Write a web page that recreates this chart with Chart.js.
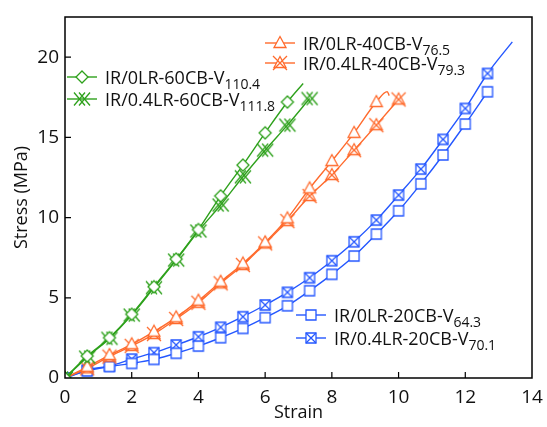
<!DOCTYPE html>
<html>
<head>
<meta charset="utf-8">
<script src="https://cdn.jsdelivr.net/npm/chart.js@4/dist/chart.umd.min.js"></script>
<style>
html, body { margin: 0; padding: 0; background: #fff; }
</style>
</head>
<body>
<canvas id="stressChart" width="547" height="427"></canvas>
<script>
// strain values where markers were taken (every 2/3)
const strainSteps = [0, 0.667, 1.333, 2, 2.667, 3.333, 4, 4.667, 5.333, 6, 6.667, 7.333, 8, 8.667, 9.333, 10, 10.667, 11.333, 12, 12.667];

// stress (MPa)
const green0 = [0, 1.37, 2.51, 3.97, 5.69, 7.41, 9.25, 11.35, 13.27, 15.28, 17.2];
const green04 = [0, 1.3, 2.47, 3.92, 5.63, 7.35, 9.16, 10.78, 12.54, 14.2, 15.76, 17.42];
const orange0 = [0, 0.7, 1.43, 2.1, 2.89, 3.78, 4.82, 6.0, 7.14, 8.45, 9.95, 11.82, 13.52, 15.28, 17.2];
const orange04 = [0, 0.6, 1.33, 2.0, 2.74, 3.68, 4.69, 5.9, 7.04, 8.39, 9.78, 11.34, 12.65, 14.2, 15.76, 17.36];
const blue0 = [0, 0.44, 0.71, 0.91, 1.16, 1.54, 1.99, 2.51, 3.09, 3.76, 4.5, 5.44, 6.46, 7.6, 8.97, 10.42, 12.1, 13.9, 15.83, 17.84];
const blue04 = [0, 0.5, 0.75, 1.18, 1.58, 2.06, 2.57, 3.16, 3.82, 4.55, 5.34, 6.25, 7.31, 8.49, 9.84, 11.4, 13.02, 14.87, 16.8, 18.98];

// where the curves carry on past the last marker
const green0Tail = [[7.14, 18.36]];
const orange0Tail = [[9.66, 17.85], [9.72, 17.6]];
const blue04Tail = [[13.41, 20.95]];

const seriesNames = ['IR/0LR-60CB-V', 'IR/0.4LR-60CB-V', 'IR/0LR-40CB-V', 'IR/0.4LR-40CB-V', 'IR/0LR-20CB-V', 'IR/0.4LR-20CB-V'];
const seriesSubs = ['110.4', '111.8', '76.5', '79.3', '64.3', '70.1'];

const xTicks = [0, 2, 4, 6, 8, 10, 12, 14];
const yTicks = [0, 5, 10, 15, 20];

const GREEN = '#2ea11c';
const ORANGE = '#ff6a2c';
const BLUE = '#2457ff';
const FONT = "'Open Sans', sans-serif";

// draw the marker shapes on small canvases so chart and legend share them
function makeMarker(type, color) {
    const c = document.createElement('canvas');
    c.width = 20; c.height = 20;
    const g = c.getContext('2d');
    g.strokeStyle = color;
    g.fillStyle = '#fff';
    g.lineWidth = 1.3;
    g.translate(10, 10);
    if (type === 'diamond') {
        g.beginPath();
        g.moveTo(0, -6); g.lineTo(6, 0); g.lineTo(0, 6); g.lineTo(-6, 0); g.closePath();
        g.fill(); g.stroke();
    } else if (type === 'xx') {
        g.beginPath();
        [-2.5, 2.5].forEach(d => {
            g.moveTo(d - 5.5, -6.5); g.lineTo(d + 5.5, 6.5);
            g.moveTo(d - 5.5, 6.5); g.lineTo(d + 5.5, -6.5);
        });
        g.stroke();
    } else if (type === 'tri' || type === 'triX') {
        g.beginPath();
        g.moveTo(0, -6.5); g.lineTo(6, 4.5); g.lineTo(-6, 4.5); g.closePath();
        g.fill(); g.stroke();
        if (type === 'triX') {
            g.beginPath();
            g.moveTo(-7, -7); g.lineTo(7, 7);
            g.moveTo(-7, 7); g.lineTo(7, -7);
            g.stroke();
        }
    } else if (type === 'sq' || type === 'sqX') {
        g.beginPath();
        g.rect(-5, -5, 10, 10);
        g.fill(); g.stroke();
        if (type === 'sqX') {
            g.beginPath();
            g.moveTo(-5, -5); g.lineTo(5, 5);
            g.moveTo(-5, 5); g.lineTo(5, -5);
            g.stroke();
        }
    }
    return c;
}

function makeSeries(i, vals, tail, color, marker) {
    const pts = vals.map((v, k) => ({ x: strainSteps[k], y: v }));
    tail.forEach(p => pts.push({ x: p[0], y: p[1] }));
    return {
        label: seriesNames[i] + seriesSubs[i],
        data: pts,
        borderColor: color,
        borderWidth: 1.4,
        pointStyle: makeMarker(marker, color),
        pointRadius: ctx => (ctx.dataIndex < vals.length ? 5 : 0),
        pointHoverRadius: 0,
        cubicInterpolationMode: 'monotone',
        fill: false
    };
}

const datasets = [
    makeSeries(0, green0, green0Tail, GREEN, 'diamond'),
    makeSeries(1, green04, [], GREEN, 'xx'),
    makeSeries(2, orange0, orange0Tail, ORANGE, 'tri'),
    makeSeries(3, orange04, [], ORANGE, 'triX'),
    makeSeries(4, blue0, [], BLUE, 'sq'),
    makeSeries(5, blue04, blue04Tail, BLUE, 'sqX')
];

// legend spots (left end of the sample line, centre y)
const legendSpots = [[67, 77], [67, 99], [265, 43], [265, 63], [296, 315], [296, 338]];

const framePlugin = {
    id: 'frame',
    afterDraw(chart) {
        const { ctx, chartArea: a, scales } = chart;
        ctx.save();
        ctx.strokeStyle = '#000';
        ctx.lineWidth = 1.5;
        ctx.strokeRect(a.left, a.top, a.right - a.left, a.bottom - a.top);
        ctx.lineWidth = 1.2;
        ctx.beginPath();
        xTicks.forEach(v => {
            const px = scales.x.getPixelForValue(v);
            if (px > a.left + 2 && px < a.right - 2) {
                ctx.moveTo(px, a.bottom); ctx.lineTo(px, a.bottom - 6);
            }
        });
        yTicks.forEach(v => {
            const py = scales.y.getPixelForValue(v);
            if (py > a.top + 2 && py < a.bottom - 2) {
                ctx.moveTo(a.left, py); ctx.lineTo(a.left + 6, py);
            }
        });
        ctx.stroke();

        // legend with subscripts
        chart.data.datasets.forEach((ds, i) => {
            const [lx, ly] = legendSpots[i];
            ctx.strokeStyle = ds.borderColor;
            ctx.lineWidth = 1.4;
            ctx.beginPath();
            ctx.moveTo(lx, ly); ctx.lineTo(lx + 30, ly);
            ctx.stroke();
            ctx.drawImage(ds.pointStyle, lx + 15 - 10, ly - 10);
            ctx.fillStyle = '#111';
            ctx.textBaseline = 'alphabetic';
            ctx.font = '18px ' + FONT;
            const tx = lx + 38;
            ctx.fillText(seriesNames[i], tx, ly + 6.5);
            const w = ctx.measureText(seriesNames[i]).width;
            ctx.font = '14px ' + FONT;
            ctx.fillText(seriesSubs[i], tx + w, ly + 12);
        });
        ctx.restore();
    }
};

const chart = new Chart(document.getElementById('stressChart').getContext('2d'), {
    type: 'line',
    data: { datasets: datasets },
    options: {
        responsive: false,
        animation: false,
        layout: { padding: { top: 17, right: 15, left: 0, bottom: 0 } },
        plugins: { legend: { display: false }, tooltip: { enabled: false } },
        scales: {
            x: {
                type: 'linear',
                min: 0, max: 14,
                grid: { display: false },
                border: { display: false },
                ticks: { stepSize: 2, color: '#111', font: { family: FONT, size: 19 }, padding: 0 },
                title: { display: true, text: 'Strain', color: '#111', font: { family: FONT, size: 18 }, padding: { top: 3, bottom: 3 } },
                afterFit: s => { s.height = 49; }
            },
            y: {
                min: 0, max: 22.5,
                grid: { display: false, tickLength: 2 },
                border: { display: false },
                ticks: { stepSize: 5, includeBounds: false, color: '#111', font: { family: FONT, size: 19 }, padding: 4 },
                title: { display: true, text: 'Stress (MPa)', color: '#111', font: { family: FONT, size: 18 }, padding: { top: 11, bottom: 11 } },
                afterFit: s => { s.width = 65; }
            }
        }
    },
    plugins: [framePlugin]
});
</script>
</body>
</html>
